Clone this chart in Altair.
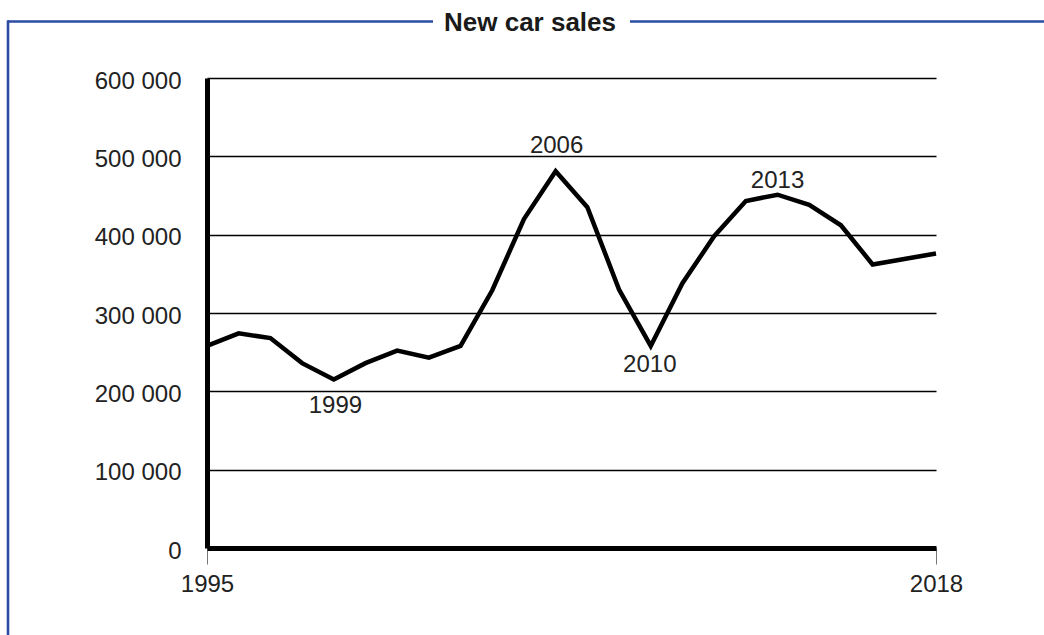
import altair as alt
import pandas as pd

# ---- data ----
years = list(range(1995, 2019))
sales = [258000, 274000, 268000, 236000, 215000, 236000, 252000, 243000,
         258000, 329000, 420000, 481000, 435000, 330000, 258000, 338000,
         398000, 443000, 451000, 438000, 412000, 362000, 369000, 376000]

label_text = ["1999", "2006", "2010", "2013"]
label_x = [1999.05, 2006.03, 2008.97, 2013.0]
label_y = [181000, 513000, 234000, 468000]

y_ticks = [0, 100000, 200000, 300000, 400000, 500000, 600000]
x_ticks = [1995, 2018]

title_text = "New car sales"

FONT = "Liberation Sans"
TXT = "#222222"
BLUE = "#2b4ca3"

df = pd.DataFrame({"year": years, "sales": sales})
lab = pd.DataFrame({"text": label_text, "x": label_x, "y": label_y})
one = pd.DataFrame({"k": [0]})

xscale = alt.Scale(domain=[1995, 2018], nice=False, zero=False)
yscale = alt.Scale(domain=[0, 600000], nice=False)

line = alt.Chart(df).mark_line(color="black", strokeWidth=4.5, strokeJoin="miter").encode(
    x=alt.X("year:Q", scale=xscale,
            axis=alt.Axis(values=x_ticks, format="d", title=None, grid=False,
                          domainColor="black", domainWidth=5,
                          tickColor="#777777", tickSize=16, tickWidth=1,
                          labelFlush=False, labelPadding=8, labelFont=FONT,
                          labelFontSize=24, labelColor=TXT)),
    y=alt.Y("sales:Q", scale=yscale,
            axis=alt.Axis(values=y_ticks, title=None, grid=True,
                          gridColor="black", gridWidth=1.3,
                          domainColor="black", domainWidth=5,
                          ticks=False, tickSize=0, labelPadding=26,
                          labelFlush=False,
                          labelFont=FONT, labelFontSize=24, labelColor=TXT,
                          labelOffset=3,
                          labelExpr="datum.value == 0 ? '0' : format(datum.value / 1000, 'd') + ' 000'")),
)

labels = alt.Chart(lab).mark_text(font=FONT, fontSize=24, color=TXT, baseline="middle", align="center").encode(
    x=alt.X("x:Q", scale=xscale),
    y=alt.Y("y:Q", scale=yscale),
    text="text:N",
)

frame_left = alt.Chart(one).mark_rule(color=BLUE, strokeWidth=2.6).encode(
    x=alt.value(-199), x2=alt.value(226), y=alt.value(-56.5))
frame_right = alt.Chart(one).mark_rule(color=BLUE, strokeWidth=2.6).encode(
    x=alt.value(423), x2=alt.value(900), y=alt.value(-56.5))
frame_vert = alt.Chart(one).mark_rule(color=BLUE, strokeWidth=2.6).encode(
    x=alt.value(-199), y=alt.value(-57.8), y2=alt.value(700))
title = alt.Chart(one).mark_text(font=FONT, fontSize=26, fontWeight="bold", color="#1a1a1a",
                                 align="center", baseline="middle").encode(
    x=alt.value(323), y=alt.value(-55), text=alt.value(title_text))

chart = alt.layer(line, labels, frame_left, frame_right, frame_vert, title).properties(
    width=729, height=470,
    autosize=alt.AutoSizeParams(type="none"),
    padding={"left": 207, "top": 78, "right": 108, "bottom": 87},
    background="white",
).configure_view(stroke=None)

chart.save("out.html", embed_options={"renderer": "svg", "actions": False})
